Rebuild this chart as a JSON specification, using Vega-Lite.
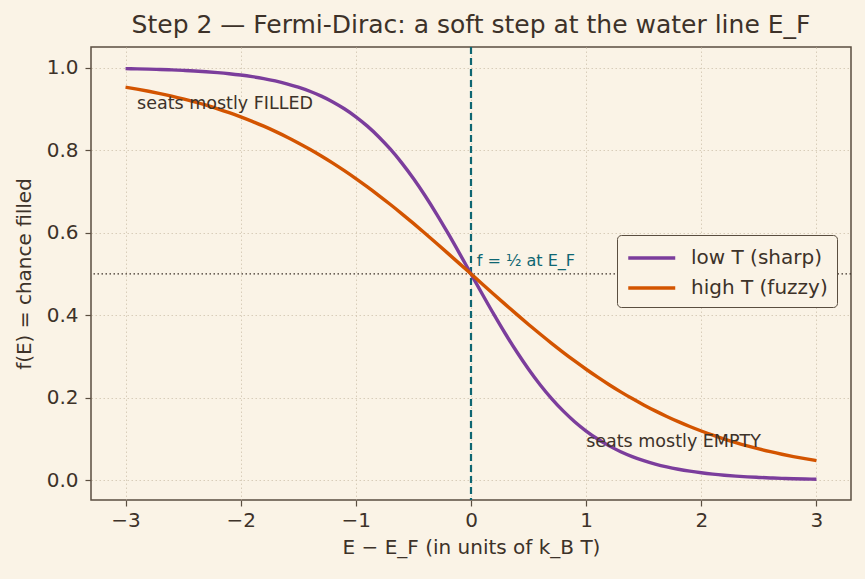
{
  "$schema": "https://vega.github.io/schema/vega-lite/v6.json",
  "width": 760,
  "height": 453,
  "autosize": {"type": "none"},
  "padding": {"left": 91, "top": 47, "right": 14, "bottom": 79},
  "background": "#faf3e6",
  "config": {
    "font": "DejaVu Sans",
    "view": {"stroke": "#5a4e40", "strokeWidth": 1.5, "fill": "#faf3e6"},
    "axis": {
      "domain": false,
      "gridColor": "#cfc3ad",
      "gridDash": [1.5, 2.5],
      "gridWidth": 0.8,
      "tickColor": "#5a4e40",
      "tickSize": 6,
      "tickWidth": 1.2,
      "labelColor": "#3d3229",
      "labelFontSize": 20,
      "titleColor": "#3d3229",
      "titleFontSize": 20,
      "titleFontWeight": "normal"
    }
  },
  "title": {
    "text": "Step 2 — Fermi-Dirac: a soft step at the water line E_F",
    "fontSize": 25,
    "fontWeight": "normal",
    "color": "#3d3229",
    "offset": 8
  },
  "datasets": {
    "curves": [
      {"x": -3.0, "f": 0.99753, "s": "low T (sharp)"},
      {"x": -2.9, "f": 0.99698, "s": "low T (sharp)"},
      {"x": -2.8, "f": 0.99632, "s": "low T (sharp)"},
      {"x": -2.7, "f": 0.99550, "s": "low T (sharp)"},
      {"x": -2.6, "f": 0.99451, "s": "low T (sharp)"},
      {"x": -2.5, "f": 0.99331, "s": "low T (sharp)"},
      {"x": -2.4, "f": 0.99184, "s": "low T (sharp)"},
      {"x": -2.3, "f": 0.99005, "s": "low T (sharp)"},
      {"x": -2.2, "f": 0.98787, "s": "low T (sharp)"},
      {"x": -2.1, "f": 0.98523, "s": "low T (sharp)"},
      {"x": -2.0, "f": 0.98201, "s": "low T (sharp)"},
      {"x": -1.9, "f": 0.97812, "s": "low T (sharp)"},
      {"x": -1.8, "f": 0.97340, "s": "low T (sharp)"},
      {"x": -1.7, "f": 0.96770, "s": "low T (sharp)"},
      {"x": -1.6, "f": 0.96083, "s": "low T (sharp)"},
      {"x": -1.5, "f": 0.95257, "s": "low T (sharp)"},
      {"x": -1.4, "f": 0.94268, "s": "low T (sharp)"},
      {"x": -1.3, "f": 0.93086, "s": "low T (sharp)"},
      {"x": -1.2, "f": 0.91683, "s": "low T (sharp)"},
      {"x": -1.1, "f": 0.90025, "s": "low T (sharp)"},
      {"x": -1.0, "f": 0.88080, "s": "low T (sharp)"},
      {"x": -0.9, "f": 0.85815, "s": "low T (sharp)"},
      {"x": -0.8, "f": 0.83202, "s": "low T (sharp)"},
      {"x": -0.7, "f": 0.80218, "s": "low T (sharp)"},
      {"x": -0.6, "f": 0.76852, "s": "low T (sharp)"},
      {"x": -0.5, "f": 0.73106, "s": "low T (sharp)"},
      {"x": -0.4, "f": 0.68997, "s": "low T (sharp)"},
      {"x": -0.3, "f": 0.64566, "s": "low T (sharp)"},
      {"x": -0.2, "f": 0.59869, "s": "low T (sharp)"},
      {"x": -0.1, "f": 0.54983, "s": "low T (sharp)"},
      {"x": 0.0, "f": 0.5, "s": "low T (sharp)"},
      {"x": 0.1, "f": 0.45017, "s": "low T (sharp)"},
      {"x": 0.2, "f": 0.40131, "s": "low T (sharp)"},
      {"x": 0.3, "f": 0.35434, "s": "low T (sharp)"},
      {"x": 0.4, "f": 0.31003, "s": "low T (sharp)"},
      {"x": 0.5, "f": 0.26894, "s": "low T (sharp)"},
      {"x": 0.6, "f": 0.23148, "s": "low T (sharp)"},
      {"x": 0.7, "f": 0.19782, "s": "low T (sharp)"},
      {"x": 0.8, "f": 0.16798, "s": "low T (sharp)"},
      {"x": 0.9, "f": 0.14185, "s": "low T (sharp)"},
      {"x": 1.0, "f": 0.11920, "s": "low T (sharp)"},
      {"x": 1.1, "f": 0.09975, "s": "low T (sharp)"},
      {"x": 1.2, "f": 0.08317, "s": "low T (sharp)"},
      {"x": 1.3, "f": 0.06914, "s": "low T (sharp)"},
      {"x": 1.4, "f": 0.05732, "s": "low T (sharp)"},
      {"x": 1.5, "f": 0.04743, "s": "low T (sharp)"},
      {"x": 1.6, "f": 0.03917, "s": "low T (sharp)"},
      {"x": 1.7, "f": 0.03230, "s": "low T (sharp)"},
      {"x": 1.8, "f": 0.02660, "s": "low T (sharp)"},
      {"x": 1.9, "f": 0.02188, "s": "low T (sharp)"},
      {"x": 2.0, "f": 0.01799, "s": "low T (sharp)"},
      {"x": 2.1, "f": 0.01477, "s": "low T (sharp)"},
      {"x": 2.2, "f": 0.01213, "s": "low T (sharp)"},
      {"x": 2.3, "f": 0.00995, "s": "low T (sharp)"},
      {"x": 2.4, "f": 0.00816, "s": "low T (sharp)"},
      {"x": 2.5, "f": 0.00669, "s": "low T (sharp)"},
      {"x": 2.6, "f": 0.00549, "s": "low T (sharp)"},
      {"x": 2.7, "f": 0.00450, "s": "low T (sharp)"},
      {"x": 2.8, "f": 0.00368, "s": "low T (sharp)"},
      {"x": 2.9, "f": 0.00302, "s": "low T (sharp)"},
      {"x": 3.0, "f": 0.00247, "s": "low T (sharp)"},
      {"x": -3.0, "f": 0.95257, "s": "high T (fuzzy)"},
      {"x": -2.9, "f": 0.94785, "s": "high T (fuzzy)"},
      {"x": -2.8, "f": 0.94268, "s": "high T (fuzzy)"},
      {"x": -2.7, "f": 0.93703, "s": "high T (fuzzy)"},
      {"x": -2.6, "f": 0.93086, "s": "high T (fuzzy)"},
      {"x": -2.5, "f": 0.92414, "s": "high T (fuzzy)"},
      {"x": -2.4, "f": 0.91683, "s": "high T (fuzzy)"},
      {"x": -2.3, "f": 0.90888, "s": "high T (fuzzy)"},
      {"x": -2.2, "f": 0.90025, "s": "high T (fuzzy)"},
      {"x": -2.1, "f": 0.89090, "s": "high T (fuzzy)"},
      {"x": -2.0, "f": 0.88080, "s": "high T (fuzzy)"},
      {"x": -1.9, "f": 0.86989, "s": "high T (fuzzy)"},
      {"x": -1.8, "f": 0.85815, "s": "high T (fuzzy)"},
      {"x": -1.7, "f": 0.84553, "s": "high T (fuzzy)"},
      {"x": -1.6, "f": 0.83202, "s": "high T (fuzzy)"},
      {"x": -1.5, "f": 0.81757, "s": "high T (fuzzy)"},
      {"x": -1.4, "f": 0.80218, "s": "high T (fuzzy)"},
      {"x": -1.3, "f": 0.78584, "s": "high T (fuzzy)"},
      {"x": -1.2, "f": 0.76852, "s": "high T (fuzzy)"},
      {"x": -1.1, "f": 0.75026, "s": "high T (fuzzy)"},
      {"x": -1.0, "f": 0.73106, "s": "high T (fuzzy)"},
      {"x": -0.9, "f": 0.71095, "s": "high T (fuzzy)"},
      {"x": -0.8, "f": 0.68997, "s": "high T (fuzzy)"},
      {"x": -0.7, "f": 0.66819, "s": "high T (fuzzy)"},
      {"x": -0.6, "f": 0.64566, "s": "high T (fuzzy)"},
      {"x": -0.5, "f": 0.62246, "s": "high T (fuzzy)"},
      {"x": -0.4, "f": 0.59869, "s": "high T (fuzzy)"},
      {"x": -0.3, "f": 0.57444, "s": "high T (fuzzy)"},
      {"x": -0.2, "f": 0.54983, "s": "high T (fuzzy)"},
      {"x": -0.1, "f": 0.52498, "s": "high T (fuzzy)"},
      {"x": 0.0, "f": 0.5, "s": "high T (fuzzy)"},
      {"x": 0.1, "f": 0.47502, "s": "high T (fuzzy)"},
      {"x": 0.2, "f": 0.45017, "s": "high T (fuzzy)"},
      {"x": 0.3, "f": 0.42556, "s": "high T (fuzzy)"},
      {"x": 0.4, "f": 0.40131, "s": "high T (fuzzy)"},
      {"x": 0.5, "f": 0.37754, "s": "high T (fuzzy)"},
      {"x": 0.6, "f": 0.35434, "s": "high T (fuzzy)"},
      {"x": 0.7, "f": 0.33181, "s": "high T (fuzzy)"},
      {"x": 0.8, "f": 0.31003, "s": "high T (fuzzy)"},
      {"x": 0.9, "f": 0.28905, "s": "high T (fuzzy)"},
      {"x": 1.0, "f": 0.26894, "s": "high T (fuzzy)"},
      {"x": 1.1, "f": 0.24974, "s": "high T (fuzzy)"},
      {"x": 1.2, "f": 0.23148, "s": "high T (fuzzy)"},
      {"x": 1.3, "f": 0.21416, "s": "high T (fuzzy)"},
      {"x": 1.4, "f": 0.19782, "s": "high T (fuzzy)"},
      {"x": 1.5, "f": 0.18243, "s": "high T (fuzzy)"},
      {"x": 1.6, "f": 0.16798, "s": "high T (fuzzy)"},
      {"x": 1.7, "f": 0.15447, "s": "high T (fuzzy)"},
      {"x": 1.8, "f": 0.14185, "s": "high T (fuzzy)"},
      {"x": 1.9, "f": 0.13011, "s": "high T (fuzzy)"},
      {"x": 2.0, "f": 0.11920, "s": "high T (fuzzy)"},
      {"x": 2.1, "f": 0.10910, "s": "high T (fuzzy)"},
      {"x": 2.2, "f": 0.09975, "s": "high T (fuzzy)"},
      {"x": 2.3, "f": 0.09112, "s": "high T (fuzzy)"},
      {"x": 2.4, "f": 0.08317, "s": "high T (fuzzy)"},
      {"x": 2.5, "f": 0.07586, "s": "high T (fuzzy)"},
      {"x": 2.6, "f": 0.06914, "s": "high T (fuzzy)"},
      {"x": 2.7, "f": 0.06297, "s": "high T (fuzzy)"},
      {"x": 2.8, "f": 0.05732, "s": "high T (fuzzy)"},
      {"x": 2.9, "f": 0.05215, "s": "high T (fuzzy)"},
      {"x": 3.0, "f": 0.04743, "s": "high T (fuzzy)"}
    ],
    "notes": [
      {"x": -2.9, "f": 0.9, "label": "seats mostly FILLED"},
      {"x": 1.0, "f": 0.08, "label": "seats mostly EMPTY"}
    ],
    "half": [
      {"x": 0.05, "f": 0.52, "label": "f = ½ at E_F"}
    ],
    "hline": [{"f": 0.5}],
    "vline": [{"x": 0}]
  },
  "layer": [
    {
      "data": {"name": "hline"},
      "mark": {"type": "rule", "color": "#3d3229", "strokeDash": [1.5, 2.5], "strokeWidth": 1.3},
      "encoding": {
        "y": {"field": "f", "type": "quantitative", "scale": {"domain": [-0.048, 1.05], "nice": false, "zero": false}}
      }
    },
    {
      "data": {"name": "vline"},
      "mark": {"type": "rule", "color": "#0e6672", "strokeDash": [7, 4], "strokeWidth": 2.2},
      "encoding": {
        "x": {"field": "x", "type": "quantitative", "scale": {"domain": [-3.3, 3.3], "nice": false, "zero": false}}
      }
    },
    {
      "data": {"name": "curves"},
      "mark": {"type": "line", "strokeWidth": 3.4, "interpolate": "monotone"},
      "encoding": {
        "x": {
          "field": "x", "type": "quantitative",
          "scale": {"domain": [-3.3, 3.3], "nice": false, "zero": false},
          "axis": {"values": [-3, -2, -1, 0, 1, 2, 3], "format": "d", "title": "E − E_F  (in units of k_B T)", "titlePadding": 7, "labelPadding": 4}
        },
        "y": {
          "field": "f", "type": "quantitative",
          "scale": {"domain": [-0.048, 1.05], "nice": false, "zero": false},
          "axis": {"values": [0, 0.2, 0.4, 0.6, 0.8, 1.0], "format": ".1f", "title": "f(E)  = chance filled", "titlePadding": 12, "labelPadding": 7}
        },
        "color": {
          "field": "s", "type": "nominal",
          "scale": {"domain": ["low T (sharp)", "high T (fuzzy)"], "range": ["#7b3d9c", "#d35400"]},
          "legend": {
            "title": null,
            "orient": "none",
            "legendX": 526,
            "legendY": 188,
            "symbolType": "M-1,0H3",
            "symbolStrokeWidth": 3.6,
            "symbolSize": 552,
            "symbolFillColor": "transparent",
            "labelFontSize": 20,
            "labelColor": "#3d3229",
            "rowPadding": 6,
            "padding": 9,
            "strokeColor": "#5a4e40",
            "fillColor": "#faf3e6",
            "cornerRadius": 4,
            "labelOffset": 37
          }
        }
      }
    },
    {
      "data": {"name": "notes"},
      "mark": {"type": "text", "align": "left", "baseline": "alphabetic", "fontSize": 17.5, "color": "#3d3229"},
      "encoding": {
        "x": {"field": "x", "type": "quantitative"},
        "y": {"field": "f", "type": "quantitative"},
        "text": {"field": "label"}
      }
    },
    {
      "data": {"name": "half"},
      "mark": {"type": "text", "align": "left", "baseline": "alphabetic", "fontSize": 16, "color": "#0e6672"},
      "encoding": {
        "x": {"field": "x", "type": "quantitative"},
        "y": {"field": "f", "type": "quantitative"},
        "text": {"field": "label"}
      }
    }
  ]
}
